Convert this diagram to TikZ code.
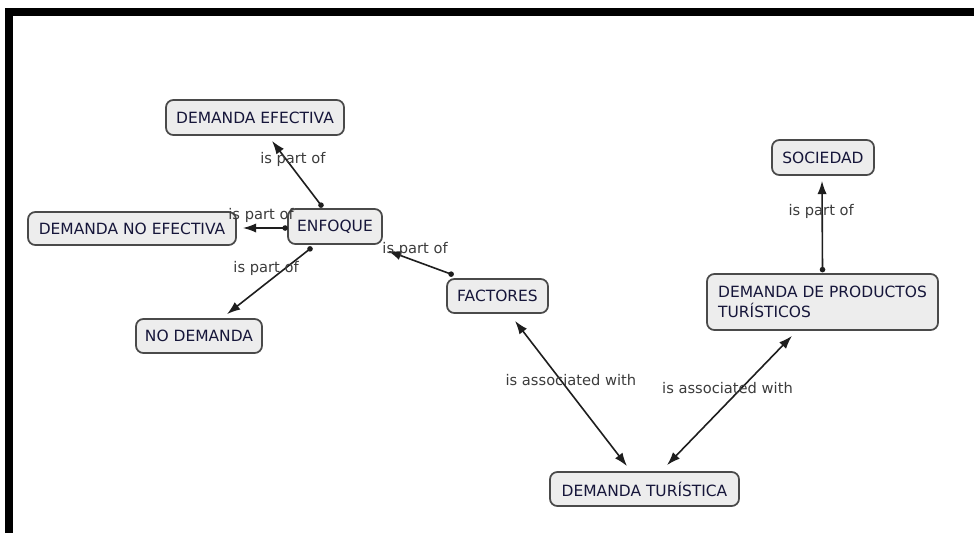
\documentclass[tikz,border=0pt]{standalone}
\usepackage{fontspec}
\setmainfont{DejaVu Sans}
\usetikzlibrary{arrows.meta,calc}
\definecolor{boxfill}{HTML}{EDEDED}
\definecolor{boxline}{HTML}{4A4A4A}
\definecolor{conceptink}{HTML}{16163A}
\definecolor{linkink}{HTML}{3C3C3C}
\definecolor{lineink}{HTML}{1E1E1E}
\begin{document}
\begin{tikzpicture}[x=0.75pt,y=-0.75pt,
  concept/.style={draw=boxline,line width=1.3pt,fill=boxfill,rounded corners=5.5pt,
    inner sep=0pt,text=conceptink,align=center,
    font=\fontsize{11.6}{15}\selectfont},
  linklabel/.style={text=linkink,inner sep=0pt,font=\fontsize{11}{13}\selectfont},
  link/.style={draw=lineink,line width=1.2pt,-{Latex[length=10pt,width=7pt]}},
  twoway/.style={draw=lineink,line width=1.2pt,
    {Latex[length=10pt,width=7pt]}-{Latex[length=10pt,width=7pt]}},
  dot/.style={fill=lineink}]

% page frame
\useasboundingbox (0,0) rectangle (974,533);
\fill[white] (0,0) rectangle (974,533);
\fill[black] (5,8) rectangle (974,16);
\fill[black] (5,8) rectangle (13,533);

% concepts
\node[concept,minimum width=178*0.75pt,minimum height=35*0.75pt] (eff)   at (255,117.5) {DEMANDA EFECTIVA};
\node[concept,minimum width=208*0.75pt,minimum height=33*0.75pt] (noef)  at (132,228.5) {DEMANDA NO EFECTIVA};
\node[concept,minimum width=94*0.75pt, minimum height=35*0.75pt] (enf)   at (335,226.5) {ENFOQUE};
\node[concept,minimum width=126*0.75pt,minimum height=34*0.75pt] (nodem) at (199,336)   {NO DEMANDA};
\node[concept,minimum width=101*0.75pt,minimum height=34*0.75pt] (fac)   at (497.5,296) {FACTORES};
\node[concept,minimum width=102*0.75pt,minimum height=35*0.75pt] (soc)   at (823,157.5) {SOCIEDAD};
\node[concept,minimum width=231*0.75pt,minimum height=56*0.75pt,align=left] (dp) at (822.5,302)
  {DEMANDA DE PRODUCTOS\\TURÍSTICOS};
\node[concept,minimum width=189*0.75pt,minimum height=34*0.75pt] (dt)    at (644.5,489) {DEMANDA TURÍSTICA};

% connector end points
\coordinate (s1) at ($(enf.north)+(-14,-3)$);
\coordinate (t1) at ($(eff.south)+(17,5)$);
\coordinate (s2) at ($(enf.west)+(-2,1.5)$);
\coordinate (t2) at ($(noef.east)+(6,-0.5)$);
\coordinate (s3) at ($(enf.south)+(-25,4)$);
\coordinate (t3) at ($(nodem.north)+(28,-4)$);
\coordinate (s4) at ($(fac.north west)+(5,-4)$);
\coordinate (t4) at ($(enf.south east)+(5,6)$);
\coordinate (a5) at ($(dt.north)+(-17.5,-5)$);
\coordinate (b5) at ($(fac.south)+(17.5,7)$);
\coordinate (a6) at ($(dt.north)+(22.5,-6)$);
\coordinate (b6) at ($(dp.south)+(-30.5,5)$);
\coordinate (s7) at ($(dp.north)+(0,-3.5)$);
\coordinate (t7) at ($(soc.south)+(-1,5)$);

% connectors
\draw[link] (s1) -- node[linklabel,pos=0.716,xshift=5.25pt] (l1) {is part of} (t1);
\draw[link] (s2) -- node[linklabel,pos=0.57,yshift=9.75pt] (l2) {is part of} (t2);
\draw[link] (s3) -- node[linklabel,pos=0.3,xshift=-14.25pt] (l3) {is part of} (t3);
\draw[link] (s4) -- node[linklabel,pos=0.57,yshift=8.8pt] (l4) {is part of} (t4);
\draw[twoway] (a5) -- node[linklabel,pos=0.59,xshift=7.5pt] (l5) {is associated with} (b5);
\draw[twoway] (a6) -- node[linklabel,pos=0.595,xshift=-10.4pt] (l6) {is associated with} (b6);
\draw[link] (s7) -- node[linklabel,pos=0.657,xshift=-0.75pt] (l7) {is part of} (t7);

% start dots
\foreach \p in {s1,s2,s3,s4,s7} \fill[dot] (\p) circle (2.8);
\end{tikzpicture}
\end{document}
